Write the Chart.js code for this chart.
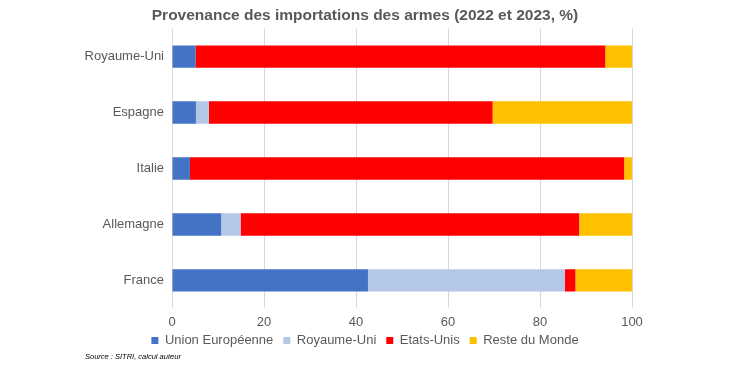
<!DOCTYPE html>
<html>
<head>
<meta charset="utf-8">
<script src="https://cdn.jsdelivr.net/npm/chart.js@4/dist/chart.umd.min.js"></script>
<style>
  html, body { margin: 0; padding: 0; background: #fff; }
  #wrap { width: 730px; height: 370px; position: relative; }
</style>
</head>
<body>
<div id="wrap"><canvas id="graphique"></canvas></div>
<script>
// Données (parts en %)
const pays = ['Royaume-Uni', 'Espagne', 'Italie', 'Allemagne', 'France'];
const unionEuropeenne = [5.1, 5.2, 3.9, 10.7, 42.6];
const royaumeUni = [0, 2.8, 0, 4.2, 42.8];
const etatsUnis = [89.1, 61.7, 94.4, 73.6, 2.3];
const resteDuMonde = [5.8, 30.3, 1.7, 11.5, 12.3];
const graduations = [0, 20, 40, 60, 80, 100];

const gris = '#595959';
const police = 'Liberation Sans, Arial, sans-serif';

// remonte la légende plus près de l'axe (on agrandit sa zone vers le haut)
const decalageLegende = {
    id: 'decalageLegende',
    afterLayout: function (chart) {
        chart.legend.top -= 12;
    }
};

new Chart(document.getElementById('graphique').getContext('2d'), {
    type: 'bar',
    data: {
        labels: pays,
        datasets: [
            { label: 'Union Européenne', data: unionEuropeenne, backgroundColor: '#4472c4' },
            { label: 'Royaume-Uni', data: royaumeUni, backgroundColor: '#b4c7e7' },
            { label: 'Etats-Unis', data: etatsUnis, backgroundColor: '#ff0000' },
            { label: 'Reste du Monde', data: resteDuMonde, backgroundColor: '#ffc000' }
        ]
    },
    plugins: [decalageLegende],
    options: {
        indexAxis: 'y',
        responsive: true,
        maintainAspectRatio: false,
        animation: false,
        barPercentage: 0.4,
        categoryPercentage: 1,
        layout: { padding: { left: 85, right: 85, top: 0, bottom: 9 } },
        scales: {
            x: {
                stacked: true,
                min: 0,
                max: 100,
                afterBuildTicks: function (scale) {
                    scale.ticks = graduations.map(v => ({ value: v }));
                },
                grid: { color: '#d9d9d9', drawTicks: false },
                border: { display: false },
                ticks: { color: gris, font: { family: police, size: 13 }, padding: 6 }
            },
            y: {
                stacked: true,
                grid: { display: false, drawTicks: false },
                border: { display: false },
                ticks: { color: gris, font: { family: police, size: 13 }, padding: 8 },
                afterFit: function (scale) { scale.width = 87; }
            },
            // axe vide à droite pour réserver la marge
            yDroite: {
                position: 'right',
                grid: { display: false, drawTicks: false },
                border: { display: false },
                ticks: { display: false },
                afterFit: function (scale) { scale.width = 13; }
            }
        },
        plugins: {
            title: {
                display: true,
                text: 'Provenance des importations des armes (2022 et 2023, %)',
                color: gris,
                font: { family: police, size: 15.5, weight: 'bold' },
                padding: { top: 6, bottom: 4 }
            },
            subtitle: {
                display: true,
                position: 'bottom',
                align: 'start',
                text: 'Source : SITRI, calcul auteur',
                color: '#000',
                font: { family: police, size: 7.5, style: 'italic' },
                padding: 0
            },
            legend: {
                position: 'bottom',
                maxHeight: 16,
                labels: {
                    color: gris,
                    font: { family: police, size: 13 },
                    boxWidth: 7,
                    boxHeight: 7,
                    padding: 10
                }
            },
            tooltip: { enabled: false }
        }
    }
});
</script>
</body>
</html>
